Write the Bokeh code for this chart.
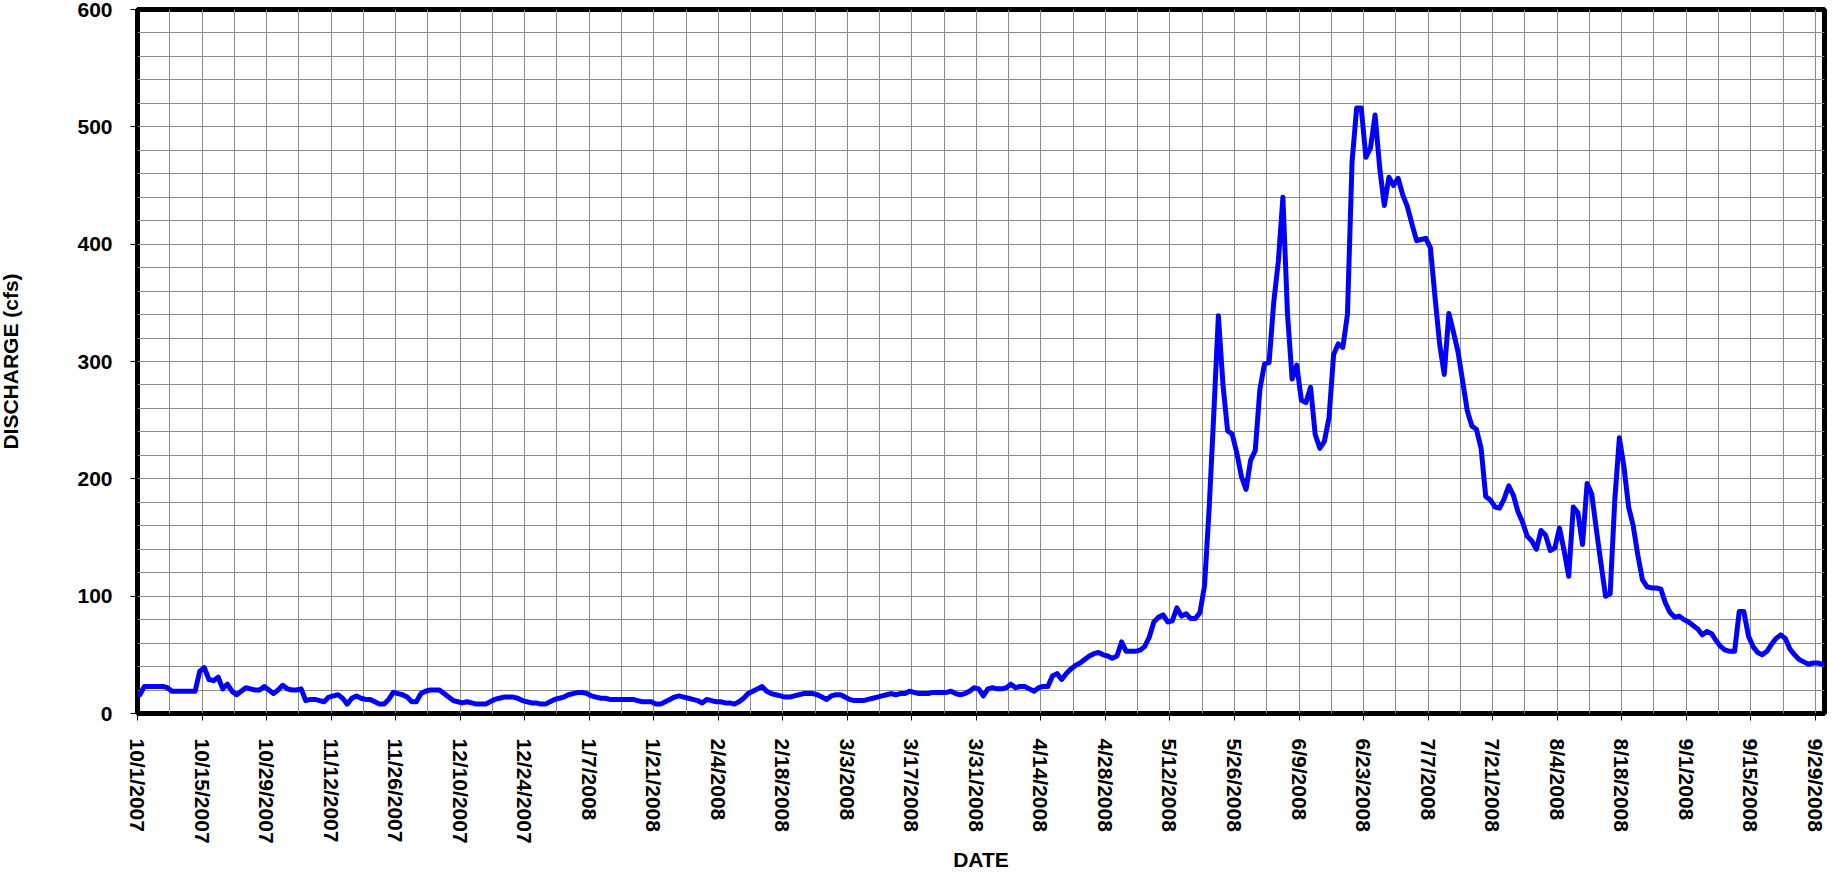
from datetime import datetime, timedelta

from bokeh.plotting import figure
from bokeh.models import FixedTicker, Range1d, ColumnDataSource
from bokeh.embed import file_html
from bokeh.resources import INLINE

# ---------------- data (daily discharge, cfs) ----------------
start_date = "10/1/2007"
end_date = "10/1/2008"

oct_2007 = [16, 23, 23, 23, 23, 23, 22, 19, 19, 19, 19, 19, 19, 36, 39, 29, 28, 31, 21, 25,
            19, 16, 19, 22, 21, 20, 20, 23, 20, 17, 20]
nov_2007 = [24, 21, 20, 20, 21, 11, 12, 12, 11, 10, 14, 15, 16, 13, 8, 13, 15, 13, 12, 12,
            10, 8, 8, 12, 18, 17, 16, 14, 10, 10]
dec_2007 = [17, 19, 20, 20, 20, 17, 14, 11, 10, 9, 10, 9, 8, 8, 8, 10, 12, 13, 14, 14,
            14, 13, 11, 10, 9, 9, 8, 8, 10, 12, 13]
jan_2008 = [14, 16, 17, 18, 18, 17, 15, 14, 13, 13, 12, 12, 12, 12, 12, 12, 11, 10, 10, 10,
            8, 8, 10, 12, 14, 15, 14, 13, 12, 11, 9]
feb_2008 = [12, 11, 10, 10, 9, 9, 8, 10, 13, 17, 19, 21, 23, 19, 17, 16, 15, 14, 14, 15,
            16, 17, 17, 17, 16, 14, 12, 15, 16]
mar_2008 = [16, 14, 12, 11, 11, 11, 12, 13, 14, 15, 16, 17, 16, 17, 17, 19, 18, 17, 17, 17,
            18, 18, 18, 18, 19, 17, 16, 17, 19, 22, 21]
apr_2008 = [15, 21, 22, 21, 21, 22, 25, 22, 23, 23, 21, 19, 22, 23, 23, 32, 34, 29, 34, 38,
            41, 43, 46, 49, 51, 52, 50, 49, 47, 49]
may_2008 = [61, 53, 53, 53, 54, 57, 65, 78, 82, 84, 78, 79, 90, 83, 85, 81, 81, 86, 109, 175,
            255, 339, 280, 241, 238, 222, 202, 191, 216, 224, 276]
jun_2008 = [298, 299, 350, 385, 440, 340, 285, 297, 267, 265, 278, 238, 226, 232, 252, 306,
            315, 312, 340, 470, 516, 516, 474, 482, 510, 465, 433, 457, 450, 456]
jul_2008 = [442, 432, 417, 403, 404, 405, 397, 355, 315, 289, 341, 325, 308, 283, 258, 245,
            242, 226, 185, 182, 176, 175, 183, 194, 186, 172, 163, 151, 147, 140, 156]
aug_2008 = [152, 139, 141, 158, 139, 117, 176, 171, 144, 196, 187, 157, 128, 100, 102, 182,
            235, 210, 176, 160, 135, 114, 108, 107, 107, 106, 94, 86, 82, 83, 80]
sep_2008 = [78, 75, 72, 67, 70, 68, 62, 57, 54, 53, 53, 87, 87, 66, 57, 52, 50, 53, 59, 64,
            67, 64, 55, 50, 46, 44, 42, 43, 43, 42]

x_tick_labels = ["10/1/2007", "10/15/2007", "10/29/2007", "11/12/2007", "11/26/2007",
                 "12/10/2007", "12/24/2007", "1/7/2008", "1/21/2008", "2/4/2008",
                 "2/18/2008", "3/3/2008", "3/17/2008", "3/31/2008", "4/14/2008",
                 "4/28/2008", "5/12/2008", "5/26/2008", "6/9/2008", "6/23/2008",
                 "7/7/2008", "7/21/2008", "8/4/2008", "8/18/2008", "9/1/2008",
                 "9/15/2008", "9/29/2008"]
y_ticks = [0, 100, 200, 300, 400, 500, 600]
y_grid_step = 20
x_grid_step_days = 7

# ---------------- build ----------------
EPOCH = datetime(1970, 1, 1)


def to_ms(d):
    return (d - EPOCH).total_seconds() * 1000.0


def parse(s):
    return datetime.strptime(s, "%m/%d/%Y")


values = (oct_2007 + nov_2007 + dec_2007 + jan_2008 + feb_2008 + mar_2008 +
          apr_2008 + may_2008 + jun_2008 + jul_2008 + aug_2008 + sep_2008)
d0 = parse(start_date)
d1 = parse(end_date)
# Excel-style date axis: each daily value sits in the middle of its day
dates = [d0 + timedelta(days=i, hours=12) for i in range(len(values))]
source = ColumnDataSource(dict(date=dates, q=values))

tick_ms = [to_ms(parse(s)) for s in x_tick_labels]
grid_ms = []
g = d0
while g < d1:
    grid_ms.append(to_ms(g))
    g += timedelta(days=x_grid_step_days)

FONT = "Liberation Sans"

p = figure(width=1833, height=881, x_axis_type="datetime",
           x_range=Range1d(to_ms(d0), to_ms(d1)), y_range=Range1d(0, 600),
           output_backend="svg", toolbar_location=None,
           min_border_left=136, min_border_right=5, min_border_top=13,
           min_border_bottom=164, margin=(-4, -4, -4, -4),
           background_fill_color="white", border_fill_color="white")

p.line("date", "q", source=source, line_color="#0000FF", line_width=5,
       line_join="round", line_cap="round")

# frame
p.outline_line_color = "black"
p.outline_line_width = 5
p.outline_line_alpha = 1.0

# grids
p.xgrid.ticker = FixedTicker(ticks=grid_ms)
p.ygrid.ticker = FixedTicker(ticks=list(range(0, 601, y_grid_step)))
for gr in (p.xgrid, p.ygrid):
    gr.grid_line_color = "#8c8c8c"
    gr.grid_line_width = 1

# x axis
xa = p.xaxis[0]
xa.ticker = FixedTicker(ticks=tick_ms)
xa.major_label_overrides = {t: s for t, s in zip(tick_ms, x_tick_labels)}
xa.major_label_orientation = "vertical"
xa.axis_label = "DATE"
xa.minor_tick_line_color = None

# y axis
ya = p.yaxis[0]
ya.ticker = FixedTicker(ticks=y_ticks)
ya.axis_label = "DISCHARGE (cfs)"
ya.minor_tick_line_color = None

for ax in (xa, ya):
    ax.axis_line_color = None
    ax.major_tick_line_color = "black"
    ax.major_tick_line_width = 1
    ax.major_tick_in = 0
    ax.major_tick_out = 7
    ax.major_label_text_font = FONT
    ax.major_label_text_font_style = "bold"
    ax.major_label_text_font_size = "21px"
    ax.major_label_text_color = "black"
    ax.axis_label_text_font = FONT
    ax.axis_label_text_font_style = "bold"
    ax.axis_label_text_font_size = "21px"
    ax.axis_label_text_color = "black"

xa.major_label_standoff = 18
xa.axis_label_standoff = 1
ya.major_label_standoff = 18
ya.axis_label_standoff = 52

open("out.html", "w").write(file_html(p, INLINE))
